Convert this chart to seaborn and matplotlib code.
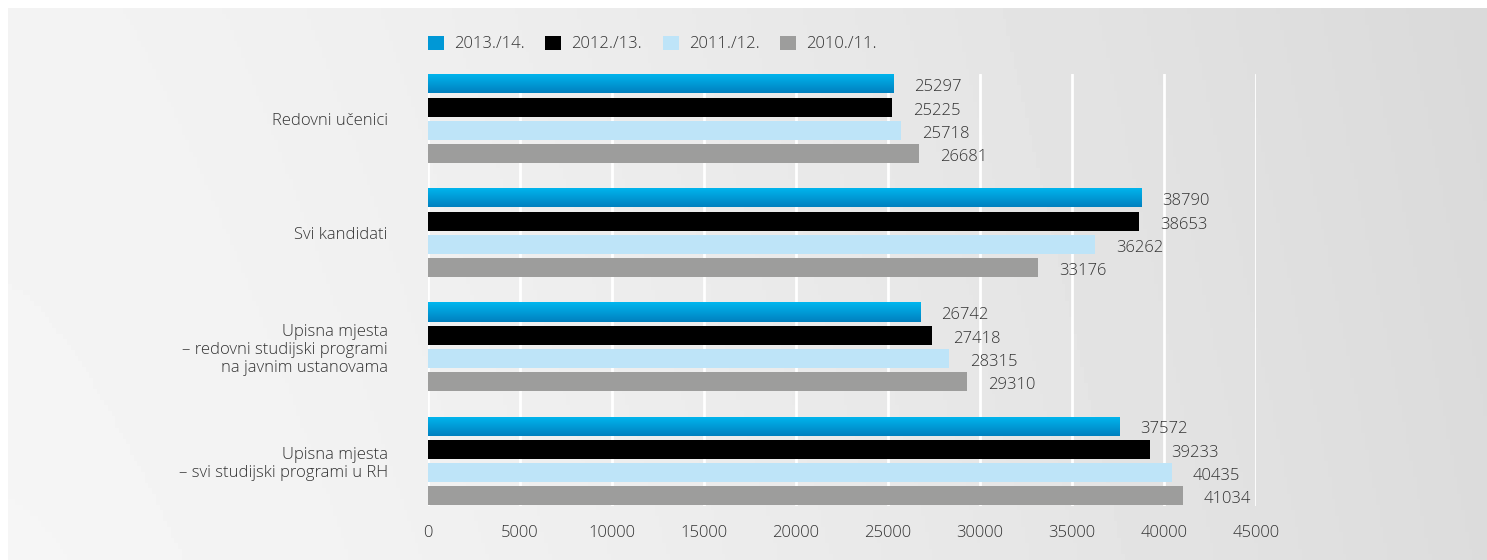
import matplotlib
matplotlib.use('Agg')
import matplotlib.pyplot as plt
import numpy as np
import pandas as pd
import seaborn as sns
from matplotlib.colors import LinearSegmentedColormap
from matplotlib.patches import Patch

# data
categories = ['Redovni učenici',
              'Svi kandidati',
              'Upisna mjesta\n– redovni studijski programi\nna javnim ustanovama',
              'Upisna mjesta\n– svi studijski programi u RH']
seasons = ['2013./14.', '2012./13.', '2011./12.', '2010./11.']
v_2013 = [25297, 38790, 26742, 37572]
v_2012 = [25225, 38653, 27418, 39233]
v_2011 = [25718, 36262, 28315, 40435]
v_2010 = [26681, 33176, 29310, 41034]
x_ticks = [0, 5000, 10000, 15000, 20000, 25000, 30000, 35000, 40000, 45000]

colors = ['#0098d6', '#000000', '#bee4f8', '#9d9d9c']
text_col = '#333333'

sns.set_style('white')
plt.rcParams['font.family'] = ['Open Sans', 'DejaVu Sans']
plt.rcParams['font.weight'] = 'light'

df = pd.DataFrame({
    'kategorija': categories * 4,
    'godina': np.repeat(seasons, 4),
    'vrijednost': v_2013 + v_2012 + v_2011 + v_2010,
})

fig = plt.figure(figsize=(14.87, 5.6), dpi=100)

# grey gradient panel behind everything
bg = fig.add_axes([8 / 1487, 0, 1 - 8 / 1487, 1 - 8 / 560], zorder=-10)
xx = np.linspace(0, 1, 400)
yy = np.linspace(0, 1, 100)
X, Y = np.meshgrid(xx, yy)
grad = 0.962 - 0.10 * X ** 1.4 - 0.01 * (1 - Y)
bg.imshow(grad, aspect='auto', cmap='gray', vmin=0, vmax=1, extent=[0, 1, 0, 1])
bg.axis('off')

ax = fig.add_axes([428 / 1487, 1 - 506 / 560, (1256 - 428) / 1487, (506 - 74) / 560])
ax.set_facecolor('none')

sns.barplot(data=df, x='vrijednost', y='kategorija', hue='godina', order=categories,
            hue_order=seasons, palette=colors, orient='h', width=0.814, saturation=1,
            errorbar=None, legend=False, ax=ax)

# thinner bars with small gaps between them
bar_h = 0.167
for c in ax.containers:
    for p in c:
        y, h = p.get_y(), p.get_height()
        p.set_y(y + (h - bar_h) / 2)
        p.set_height(bar_h)
        p.set_linewidth(0)

# blue gradient on the 2013./14. bars
blue_cmap = LinearSegmentedColormap.from_list('blue', ['#00b7ef', '#0080bf'])
g = np.linspace(0, 1, 64).reshape(-1, 1)
for p in ax.containers[0]:
    x0, y0, w, h = p.get_x(), p.get_y(), p.get_width(), p.get_height()
    im = ax.imshow(g, extent=[x0, x0 + w, y0 + h, y0], aspect='auto', cmap=blue_cmap,
                   zorder=p.get_zorder() + 0.1)
    im.set_clip_path(p)

for c in ax.containers:
    anns = ax.bar_label(c, fmt='%d', padding=15, fontsize=12, color=text_col)
    for a in anns:
        a.xyann = (15, -2.5)

ax.set_xlim(0, 45000)
ax.set_ylim(3.396, -0.392)
ax.set_xticks(x_ticks)
ax.set_axisbelow(True)
ax.xaxis.grid(True, color='white', linewidth=2)
ax.yaxis.grid(False)
ax.tick_params(axis='both', length=0, labelsize=12, colors=text_col)
ax.tick_params(axis='x', pad=14)
ax.tick_params(axis='y', pad=29)
ax.set_xlabel('')
ax.set_ylabel('')
sns.despine(ax=ax, left=True, bottom=True)

handles = [Patch(facecolor=c, edgecolor='none') for c in colors]
fig.legend(handles, seasons, loc='center left', bbox_to_anchor=(428 / 1487, 1 - 44 / 560),
           ncol=4, frameon=False, handlelength=0.95, handleheight=0.95, handletextpad=0.6,
           columnspacing=1.25, fontsize=12, borderaxespad=0, borderpad=0,
           labelcolor=text_col)

fig.savefig('out.png', dpi=100)
